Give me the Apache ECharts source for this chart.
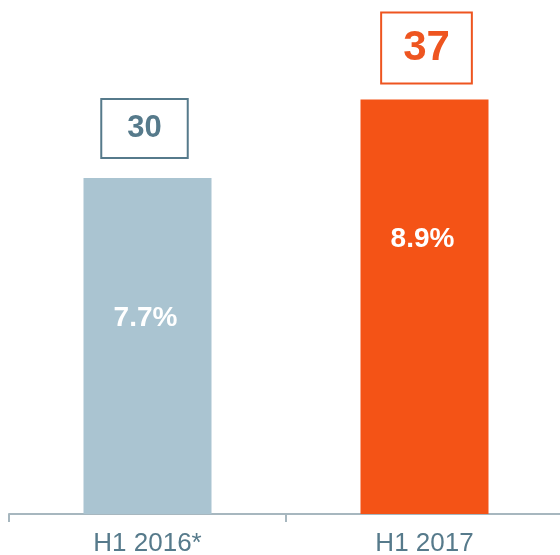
<!DOCTYPE html>
<html>
<head>
<meta charset="utf-8">
<script src="https://cdn.jsdelivr.net/npm/echarts@6/dist/echarts.min.js"></script>
<style>
html,body{margin:0;padding:0;background:#fff;}
#chart{width:560px;height:555px;}
</style>
</head>
<body>
<div id="chart"></div>
<script>
var categories = ['H1 2016*', 'H1 2017'];
var values = [30, 37];
var shares = ['7.7%', '8.9%'];
var barColors = ['#AAC4D1', '#F45316'];
var boxColors = ['#567A8B', '#EE5520'];

var FONT = '"Liberation Sans", Arial, sans-serif';

var chart = echarts.init(document.getElementById('chart'), null, {renderer: 'canvas'});

var mainData = values.map(function (v, i) {
  var big = i === 1;
  return {
    value: v,
    itemStyle: {color: barColors[i]},
    label: {
      show: true,
      position: 'top',
      distance: big ? 17 : 21,
      offset: big ? [2, 0] : [-3, 0],
      formatter: String(v),
      fontFamily: FONT,
      fontWeight: 'bold',
      fontSize: big ? 42 : 31,
      lineHeight: big ? 42 : 31,
      color: boxColors[i],
      borderColor: boxColors[i],
      borderWidth: 2,
      padding: big ? [14, 21, 13, 21] : [13, 25, 13, 25],
      backgroundColor: '#fff'
    }
  };
});

var pctData = values.map(function (v, i) {
  return {
    value: v,
    label: {
      show: true,
      position: 'insideTop',
      distance: 126,
      formatter: shares[i],
      fontFamily: FONT,
      fontWeight: 'bold',
      fontSize: 28,
      lineHeight: 28,
      color: '#ffffff',
      offset: [-2, 0]
    }
  };
});

chart.setOption({
  animation: false,
  grid: {left: 9, width: 554, top: 66, bottom: 41, outerBoundsMode: 'none', containLabel: false},
  xAxis: {
    type: 'category',
    data: categories,
    boundaryGap: true,
    axisLine: {show: true, lineStyle: {color: '#A7B7BF', width: 2}},
    axisTick: {show: true, length: 8, lineStyle: {color: '#A7B7BF', width: 2}},
    axisLabel: {
      margin: 17,
      fontFamily: FONT,
      fontSize: 26,
      color: '#567A8B'
    }
  },
  yAxis: {
    type: 'value',
    min: 0,
    max: 40,
    show: false,
    splitLine: {show: false}
  },
  series: [
    {
      type: 'bar',
      barWidth: 128,
      data: mainData,
      z: 2
    },
    {
      type: 'bar',
      barWidth: 128,
      barGap: '-100%',
      data: pctData,
      itemStyle: {color: 'rgba(0,0,0,0)'},
      silent: true,
      z: 3
    }
  ]
});
</script>
</body>
</html>
